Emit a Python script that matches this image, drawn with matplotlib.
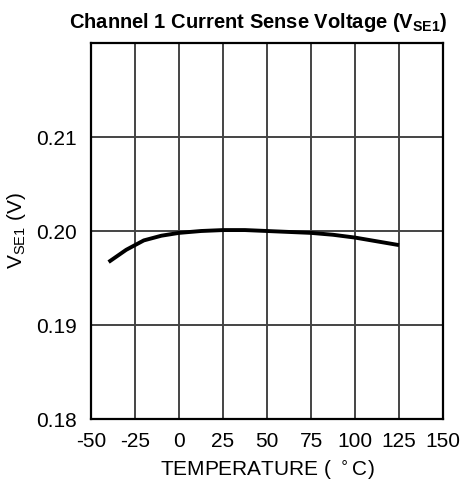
import numpy as np
import matplotlib.pyplot as plt

plt.rcParams['font.family'] = ['Liberation Sans', 'DejaVu Sans']
plt.rcParams['axes.unicode_minus'] = False

temp = [-40, -30, -20, -10, 0, 12.5, 25, 37.5, 50, 62.5, 75, 87.5, 100, 112.5, 125]
vse1 = [0.1967, 0.1980, 0.1990, 0.1995, 0.1998, 0.2000, 0.2001, 0.2001, 0.2000,
        0.1999, 0.1998, 0.1996, 0.1993, 0.1989, 0.1985]

xticks = [-50, -25, 0, 25, 50, 75, 100, 125, 150]
yticks = [0.18, 0.19, 0.20, 0.21, 0.22]
ytick_labels = ["0.18", "0.19", "0.20", "0.21", ""]

fig = plt.figure(figsize=(4.61, 4.87), dpi=100)
ax = fig.add_axes([0.1974, 0.1396, 0.7636, 0.7721])

ax.plot(temp, vse1, color="black", linewidth=2.8, solid_capstyle="butt")

ax.set_xlim(-50, 150)
ax.set_ylim(0.18, 0.22)
ax.set_xticks(xticks)
ax.set_yticks(yticks)
ax.set_yticklabels(ytick_labels)
ax.tick_params(length=0, labelsize=15)
ax.tick_params(axis="x", pad=9)
ax.tick_params(axis="y", pad=10)
ax.grid(True, color="#444444", linewidth=1.4)
for s in ax.spines.values():
    s.set_linewidth(1.6)
    s.set_color("black")

ax.set_xlabel("TEMPERATURE ( $^\\circ$C)", fontsize=15, labelpad=6)
ax.set_ylabel("V$_{\\mathregular{SE1}}$ (V)", fontsize=15, labelpad=6)
ax.set_title("Channel 1 Current Sense Voltage (V$_{\\mathregular{SE1}}$)",
             fontsize=14.5, fontweight="bold", pad=11, x=0.475)

fig.savefig("out.png", dpi=100)
